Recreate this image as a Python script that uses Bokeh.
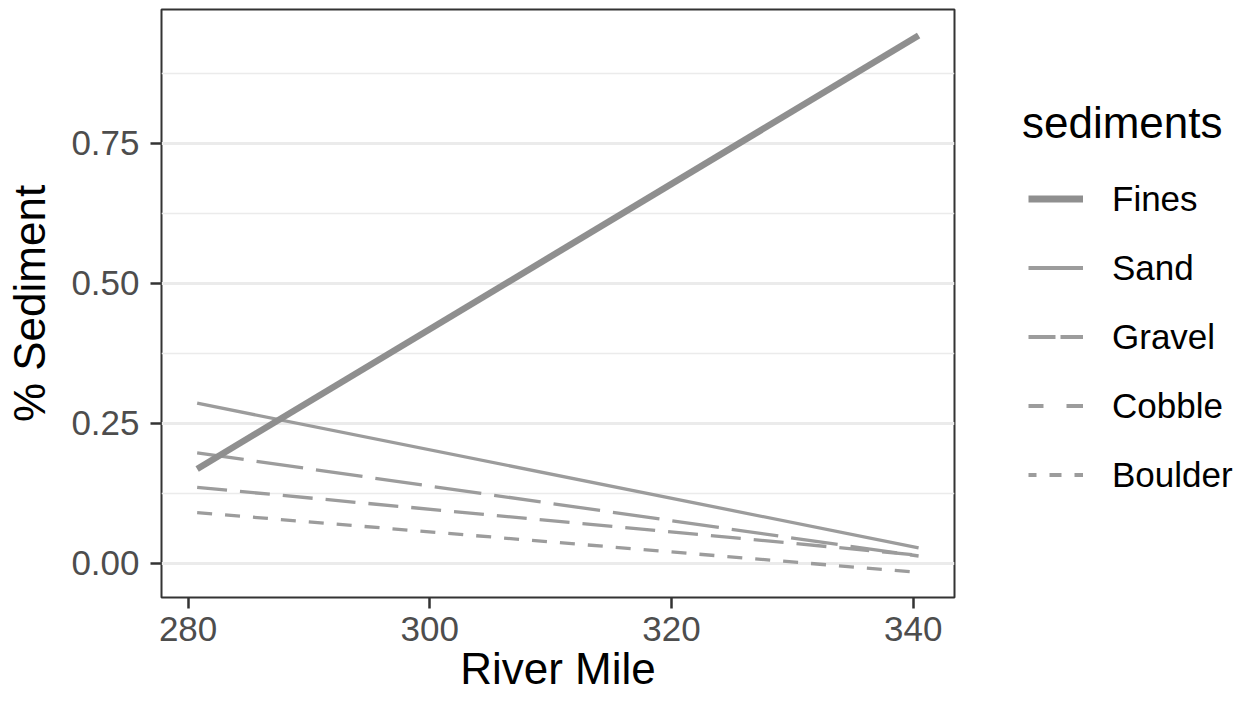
from bokeh.plotting import figure
from bokeh.layouts import row
from bokeh.models import (Legend, LegendItem, FixedTicker, PrintfTickFormatter,
                          Range1d, ColumnDataSource)
from bokeh.embed import file_html
from bokeh.resources import INLINE

# ---- data ----
river_mile = [280.75, 340.45]
sediments = ["Fines", "Sand", "Gravel", "Cobble", "Boulder"]
fines = [0.168, 0.942]
sand = [0.2854, 0.0271]
gravel = [0.1968, 0.0125]
cobble = [0.135, 0.0140]
boulder = [0.090, -0.0168]
y_ticks = [0.0, 0.25, 0.5, 0.75]
y_minor = [0.125, 0.375, 0.625, 0.875]
x_ticks = [280, 300, 320, 340]

FONT = "Liberation Sans"
nan = float("nan")

# ---------------- main panel ----------------
p = figure(width=990, height=702, output_backend="svg", toolbar_location=None,
           x_range=Range1d(277.80, 343.42), y_range=Range1d(-0.0616, 0.9884),
           min_border_left=161, min_border_top=9, min_border_bottom=105,
           min_border_right=36, background_fill_color="white",
           border_fill_color="white")

p.outline_line_color = "#333333"
p.outline_line_width = 2

p.xgrid.grid_line_color = None
p.ygrid.grid_line_color = "#ebebeb"
p.ygrid.grid_line_width = 2.8
p.ygrid.minor_grid_line_color = "#ebebeb"
p.ygrid.minor_grid_line_width = 1.4
p.yaxis.ticker = FixedTicker(ticks=y_ticks, minor_ticks=y_minor)
p.xaxis.ticker = FixedTicker(ticks=x_ticks)
p.ygrid.ticker = FixedTicker(ticks=y_ticks, minor_ticks=y_minor)
p.yaxis.formatter = PrintfTickFormatter(format="%.2f")

for ax in (p.xaxis, p.yaxis):
    ax.axis_line_color = None
    ax.major_tick_in = 0
    ax.major_tick_out = 11
    ax.major_tick_line_width = 2.5
    ax.major_tick_line_color = "#333333"
    ax.minor_tick_out = 0
    ax.minor_tick_in = 0
    ax.major_label_text_font = FONT
    ax.major_label_text_font_size = "35px"
    ax.major_label_text_color = "#4d4d4d"
    ax.axis_label_text_font = FONT
    ax.axis_label_text_font_size = "44px"
    ax.axis_label_text_font_style = "normal"
    ax.axis_label_text_color = "black"

p.xaxis.axis_label = "River Mile"
p.yaxis.axis_label = "% Sediment"
p.xaxis.major_label_standoff = 8
p.xaxis.axis_label_standoff = 0
p.yaxis.major_label_standoff = 11
p.yaxis.axis_label_standoff = 14

thin = "#9c9c9c"
thick = "#8f8f8f"

src = ColumnDataSource(dict(x=river_mile, fines=fines, sand=sand, gravel=gravel,
                            cobble=cobble, boulder=boulder))

p.line("x", "boulder", source=src, line_color=thin, line_width=3.3, line_dash="15 13")
p.line("x", "cobble", source=src, line_color=thin, line_width=3.3, line_dash="30 13")
p.line("x", "gravel", source=src, line_color=thin, line_width=3.3, line_dash="47 13")
p.line("x", "sand", source=src, line_color=thin, line_width=3.3)
p.line("x", "fines", source=src, line_color=thick, line_width=6.5)

# ---------------- legend area ----------------
q = figure(width=257, height=702, output_backend="svg", toolbar_location=None,
           x_range=Range1d(0, 1), y_range=Range1d(0, 1),
           x_axis_location=None, y_axis_location=None,
           min_border_left=32, min_border_top=9, min_border_bottom=105,
           min_border_right=0, background_fill_color="white",
           border_fill_color="white")
q.outline_line_color = None
q.grid.visible = False

# legend keys (styled as drawn in the reference legend; no visible data)
keysrc = ColumnDataSource(dict(x=river_mile, y=[nan, nan]))
k_f = q.line("x", "y", source=keysrc, line_color=thick, line_width=7, line_dash="0 6 55 1000")
k_s = q.line("x", "y", source=keysrc, line_color=thin, line_width=4, line_dash="0 6 55 1000")
k_g = q.line("x", "y", source=keysrc, line_color=thin, line_width=4,
             line_dash="0 6 27 5 23 1000")
k_c = q.line("x", "y", source=keysrc, line_color=thin, line_width=4,
             line_dash="0 6 15 23 17 1000")
k_b = q.line("x", "y", source=keysrc, line_color=thin, line_width=4,
             line_dash="0 6 8 13 12 13 9 1000")
keys = [k_f, k_s, k_g, k_c, k_b]

legend = Legend(items=[LegendItem(label=s, renderers=[k]) for s, k in zip(sediments, keys)],
                title="sediments", location=(0, 88))
legend.title_text_font = FONT
legend.title_text_font_size = "44px"
legend.title_text_font_style = "normal"
legend.title_text_color = "black"
legend.title_standoff = 16
legend.label_text_font = FONT
legend.label_text_font_size = "35px"
legend.label_text_color = "black"
legend.glyph_width = 61
legend.glyph_height = 69
legend.label_height = 69
legend.label_standoff = 29
legend.spacing = 0
legend.padding = 0
legend.margin = 0
legend.border_line_color = None
legend.background_fill_alpha = 0
q.add_layout(legend)

layout = row(p, q, spacing=0)
open("out.html", "w").write(file_html(layout, INLINE))
